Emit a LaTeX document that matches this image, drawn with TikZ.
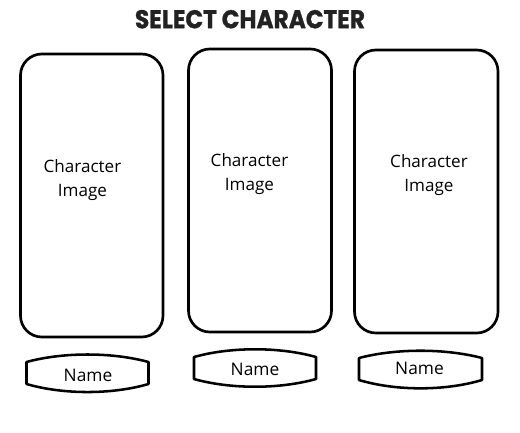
\documentclass[tikz,border=0pt]{standalone}
\usepackage{fontspec}
\setmainfont{Open Sans}
\newfontfamily\titlefont{Poppins}[BoldFeatures={FakeBold=1.2}]
\definecolor{titlegray}{HTML}{222222}
\begin{document}
\begin{tikzpicture}[x=0.75pt,y=-0.75pt,
  card/.style={draw=black, line width=2pt, rounded corners=16pt},
  pill/.style={draw=black, line width=1.9pt, line join=round},
  lbl/.style={inner sep=0pt, align=center, font=\fontsize{12.8}{18.5}\selectfont},
  nm/.style={inner sep=0pt, anchor=base, font=\fontsize{13}{15}\selectfont}]
\useasboundingbox (0,0) rectangle (520,432);
% title
\node[text=titlegray, inner sep=0pt] (title) at (250,19.2)
  {\resizebox{172.5pt}{13.7pt}{\titlefont\bfseries SELECT CHARACTER}};
% cards
\draw[card] (20.5,54) rectangle (163,337);
\draw[card] (188.5,49) rectangle (331.5,332);
\draw[card] (354.5,50) rectangle (498,333);
\node[lbl] (img1) at (82.5,180) {Character\\Image};
\node[lbl] (img2) at (249.5,174) {Character\\Image};
\node[lbl] (img3) at (429,175) {Character\\Image};
% name pills
\draw[pill] (26.5,362) -- (26.5,384)
  .. controls (63.1,394.7) and (111.9,394.7) .. (148.5,384) -- (148.5,362)
  .. controls (111.9,352) and (63.1,352) .. cycle;
\draw[pill] (194,357) -- (194,379)
  .. controls (230.6,389.3) and (279.4,389.3) .. (316,379) -- (316,357)
  .. controls (279.4,346.7) and (230.6,346.7) .. cycle;
\draw[pill] (359,358) -- (359,380)
  .. controls (395.9,391.1) and (445.1,391.1) .. (482,380) -- (482,358)
  .. controls (445.1,348.3) and (395.9,348.3) .. cycle;
\node[nm] (name1) at (88,381.7) {Name};
\node[nm] (name2) at (255,375) {Name};
\node[nm] (name3) at (419.5,374.3) {Name};
\end{tikzpicture}
\end{document}
